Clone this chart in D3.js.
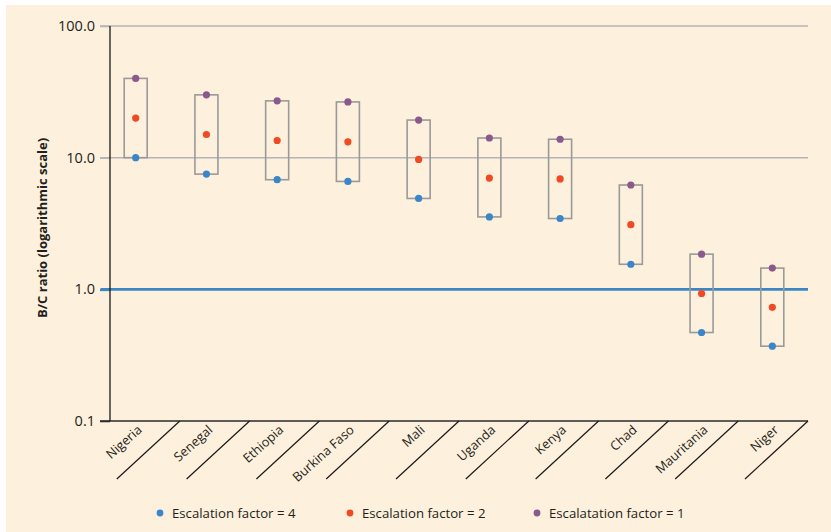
<!DOCTYPE html>
<html>
<head>
<meta charset="utf-8">
<script src="https://cdn.jsdelivr.net/npm/d3@7"></script>
<style>
  html, body { margin: 0; padding: 0; background: #ffffff; }
  svg { display: block; }
  text { font-family: "Open Sans", "Noto Sans", sans-serif; }
</style>
</head>
<body>
<svg id="chart" width="831" height="532"></svg>
<script>
const countries = ["Nigeria", "Senegal", "Ethiopia", "Burkina Faso", "Mali", "Uganda", "Kenya", "Chad", "Mauritania", "Niger"];
const factor4 = [10.0, 7.5, 6.8, 6.6, 4.9, 3.55, 3.45, 1.55, 0.47, 0.37];
const factor2 = [20.0, 15.0, 13.5, 13.2, 9.7, 7.0, 6.9, 3.1, 0.93, 0.73];
const factor1 = [40.0, 30.0, 27.0, 26.5, 19.3, 14.1, 13.8, 6.2, 1.85, 1.45];
const yTicks = [0.1, 1, 10, 100];
const legendLabels = ["Escalation factor = 4", "Escalation factor = 2", "Escalatation factor = 1"];
const colors = ["#3a86c8", "#ef4a24", "#8a5a8c"];

const svg = d3.select("#chart");
svg.append("rect").attr("x", 6).attr("y", 5).attr("width", 825).attr("height", 527).attr("fill", "#fdf0dc");

const y = d3.scaleLog().domain([0.1, 100]).range([421, 26]);
const xBand = d3.scaleBand().domain(countries).range([110, 808]);
const xPt = d3.scalePoint().domain(countries).range([135.7, 772.3]);

// gridlines at 10 and 100
svg.append("g").selectAll("line").data([10, 100]).join("line")
  .attr("x1", 100).attr("x2", 808)
  .attr("y1", d => y(d)).attr("y2", d => y(d))
  .attr("stroke", "#b4b4b6").attr("stroke-width", 1.5);

// reference line at 1
svg.append("line").attr("x1", 101).attr("x2", 808).attr("y1", y(1)).attr("y2", y(1))
  .attr("stroke", "#3d86c6").attr("stroke-width", 2.6);

// x axis baseline
svg.append("line").attr("x1", 100).attr("x2", 808).attr("y1", y(0.1)).attr("y2", y(0.1))
  .attr("stroke", "#2a2a2a").attr("stroke-width", 1.3);

// y axis
const yAxis = d3.axisLeft(y).tickValues(yTicks).tickFormat(d3.format(".1f")).tickSize(10).tickPadding(5);
const gy = svg.append("g").attr("transform", "translate(110,0)").call(yAxis);
gy.select(".domain").remove();
gy.selectAll(".tick line").attr("stroke", d => d === 1 ? "#3d86c6" : (d === 0.1 ? "#2a2a2a" : "#b4b4b6")).attr("stroke-width", d => d === 1 ? 2.6 : 1.5);
gy.selectAll(".tick text").attr("font-size", 14.5).attr("fill", "#231f20").attr("font-family", "'Open Sans', sans-serif");
svg.append("line").attr("x1", 110).attr("x2", 110).attr("y1", y(100)).attr("y2", y(0.1))
  .attr("stroke", "#1a1a1a").attr("stroke-width", 1.3);

// y title
svg.append("text")
  .attr("transform", "translate(47,228) rotate(-90)")
  .attr("text-anchor", "middle")
  .attr("font-size", 13).attr("font-weight", "bold").attr("fill", "#231f20")
  .text("B/C ratio (logarithmic scale)");

// category dividers
svg.append("g").selectAll("line").data(countries).join("line")
  .attr("x1", d => xBand(d) + xBand.bandwidth()).attr("y1", y(0.1))
  .attr("x2", d => xBand(d) + xBand.bandwidth() - 63).attr("y2", 479)
  .attr("stroke", "#1a1a1a").attr("stroke-width", 1.2);

// category labels
svg.append("g").selectAll("text").data(countries).join("text")
  .attr("transform", d => "translate(" + (xPt(d) + 7) + ",431) rotate(-42)")
  .attr("text-anchor", "end")
  .attr("font-size", 12.8).attr("fill", "#231f20")
  .text(d => d);

// boxes
const rows = countries.map((c, i) => ({c, f4: factor4[i], f2: factor2[i], f1: factor1[i]}));
svg.append("g").selectAll("rect").data(rows).join("rect")
  .attr("x", d => xPt(d.c) - 11.5).attr("width", 23)
  .attr("y", d => y(d.f1)).attr("height", d => y(d.f4) - y(d.f1))
  .attr("fill", "none").attr("stroke", "#9a9a9a").attr("stroke-width", 1.6);

// dots
const series = [factor4, factor2, factor1];
series.forEach((vals, si) => {
  svg.append("g").selectAll("circle").data(countries).join("circle")
    .attr("cx", d => xPt(d)).attr("cy", (d, i) => y(vals[i])).attr("r", 3.6)
    .attr("fill", colors[si]);
});

// legend
const legX = [160, 350, 537];
legendLabels.forEach((t, i) => {
  svg.append("circle").attr("cx", legX[i]).attr("cy", 513).attr("r", 3.4).attr("fill", colors[i]);
  svg.append("text").attr("x", legX[i] + 12).attr("y", 517.5).attr("font-size", 13.2).attr("fill", "#231f20").text(t);
});
</script>
</body>
</html>
